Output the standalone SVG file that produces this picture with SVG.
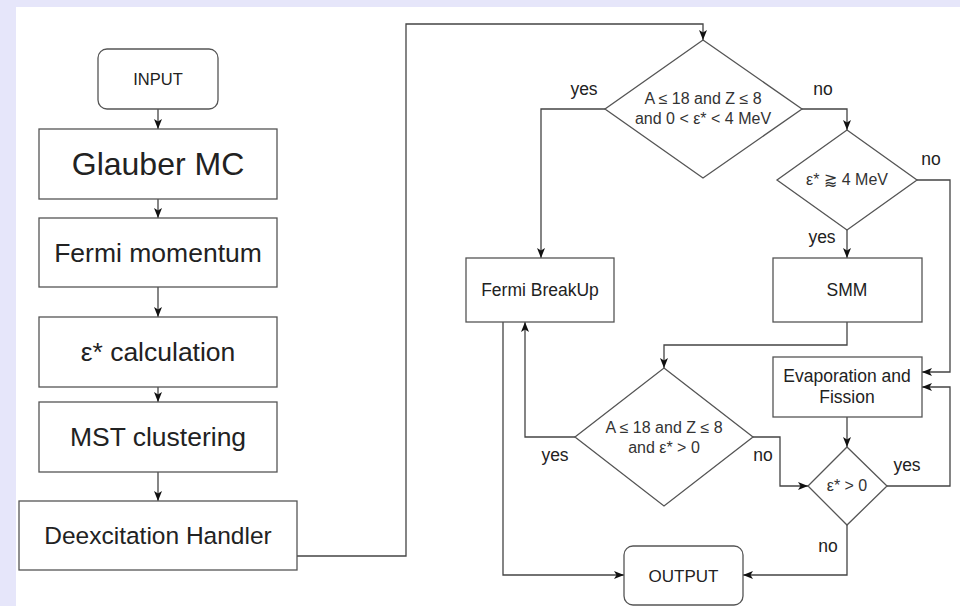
<svg xmlns="http://www.w3.org/2000/svg" width="960" height="606" viewBox="0 0 960 606">
<style>
.bx{fill:#fff;stroke:#555;stroke-width:1.3}
.t{font-family:"Liberation Sans",Arial,"DejaVu Sans",sans-serif;fill:#222;text-anchor:middle}
.dt{font-family:"Liberation Sans",Arial,"DejaVu Sans",sans-serif;fill:#333;text-anchor:middle;font-size:16px}
.lb{font-family:"Liberation Sans",Arial,sans-serif;fill:#222;text-anchor:middle;font-size:17.5px}
.e{fill:none;stroke:#444;stroke-width:1.3;marker-end:url(#ah)}
</style>
<defs>
<marker id="ah" markerUnits="userSpaceOnUse" markerWidth="10" markerHeight="10" viewBox="0 0 10 10" refX="10" refY="5" orient="auto">
<path d="M0,1 L10,5 L0,9 L2.5,5 z" fill="#111"/>
</marker>
</defs>
<rect x="0" y="0" width="960" height="606" fill="#e6e6fa"/>
<rect x="16" y="7" width="944" height="599" fill="#fff"/>

<g id="connectors">
<path class="e" d="M158,109 V129"/>
<path class="e" d="M158,199 V218"/>
<path class="e" d="M158,287 V317"/>
<path class="e" d="M158,387 V402"/>
<path class="e" d="M158,472 V501"/>
<path class="e" d="M297,556 H406 V24 H703 V40"/>
<path class="e" d="M605,109 H541 V258"/>
<path class="e" d="M802,109 H847 V130"/>
<path class="e" d="M847,230 V258"/>
<path class="e" d="M917,180 H950 V372 H922"/>
<path class="e" d="M847,322 V345 H664 V368"/>
<path class="e" d="M575,437 H525 V322"/>
<path class="e" d="M753,437 H780 V486 H808"/>
<path class="e" d="M847,417 V447"/>
<path class="e" d="M887,486 H950 V387 H922"/>
<path class="e" d="M847,525 V575 H743"/>
<path class="e" d="M503,322 V575 H624"/>
<text class="lb" x="584" y="95">yes</text>
<text class="lb" x="823" y="95">no</text>
<text class="lb" x="931" y="165">no</text>
<text class="lb" x="822" y="243">yes</text>
<text class="lb" x="555" y="461">yes</text>
<text class="lb" x="763" y="461">no</text>
<text class="lb" x="907" y="471">yes</text>
<text class="lb" x="828" y="552">no</text>
</g>

<g id="input">
<rect class="bx" x="98" y="49" width="120" height="60" rx="9"/>
<text class="t" x="158" y="85" font-size="16.5">INPUT</text>
</g>
<g id="glauber">
<rect class="bx" x="39" y="129" width="238" height="70"/>
<text class="t" x="158" y="175" font-size="32">Glauber MC</text>
</g>
<g id="fermi-momentum">
<rect class="bx" x="39" y="218" width="238" height="69"/>
<text class="t" x="158" y="262" font-size="26.5">Fermi momentum</text>
</g>
<g id="eps-calc">
<rect class="bx" x="39" y="317" width="238" height="70"/>
<text class="t" x="158" y="361" font-size="26.5">ε* calculation</text>
</g>
<g id="mst">
<rect class="bx" x="39" y="402" width="238" height="70"/>
<text class="t" x="158" y="446" font-size="26.5">MST clustering</text>
</g>
<g id="deexcitation">
<rect class="bx" x="19" y="501" width="278" height="69"/>
<text class="t" x="158" y="544" font-size="24.5">Deexcitation Handler</text>
</g>
<g id="d1">
<polygon class="bx" points="703,40 802,109 703,178 605,109"/>
<text class="dt" x="703" y="104">A ≤ 18 and Z ≤ 8</text>
<text class="dt" x="703" y="124">and 0 &lt; ε* &lt; 4 MeV</text>
</g>
<g id="d2">
<polygon class="bx" points="847,130 917,180 847,230 777,180"/>
<text class="dt" x="847" y="185">ε* ⪆ 4 MeV</text>
</g>
<g id="fermi-breakup">
<rect class="bx" x="466" y="258" width="148" height="64"/>
<text class="t" x="540" y="296" font-size="17.5">Fermi BreakUp</text>
</g>
<g id="smm">
<rect class="bx" x="773" y="258" width="149" height="64"/>
<text class="t" x="847" y="296" font-size="17.5">SMM</text>
</g>
<g id="evaporation">
<rect class="bx" x="773" y="357" width="149" height="60"/>
<text class="t" x="847" y="382" font-size="17.5">Evaporation and</text>
<text class="t" x="847" y="403" font-size="17.5">Fission</text>
</g>
<g id="d3">
<polygon class="bx" points="664,368 753,437 664,506 575,437"/>
<text class="dt" x="664" y="433">A ≤ 18 and Z ≤ 8</text>
<text class="dt" x="664" y="453">and ε* &gt; 0</text>
</g>
<g id="d4">
<polygon class="bx" points="847,447 887,486 847,525 808,486"/>
<text class="dt" x="847" y="491">ε* &gt; 0</text>
</g>
<g id="output">
<rect class="bx" x="624" y="546" width="119" height="59" rx="9"/>
<text class="t" x="683.5" y="581.5" font-size="17">OUTPUT</text>
</g>
</svg>
